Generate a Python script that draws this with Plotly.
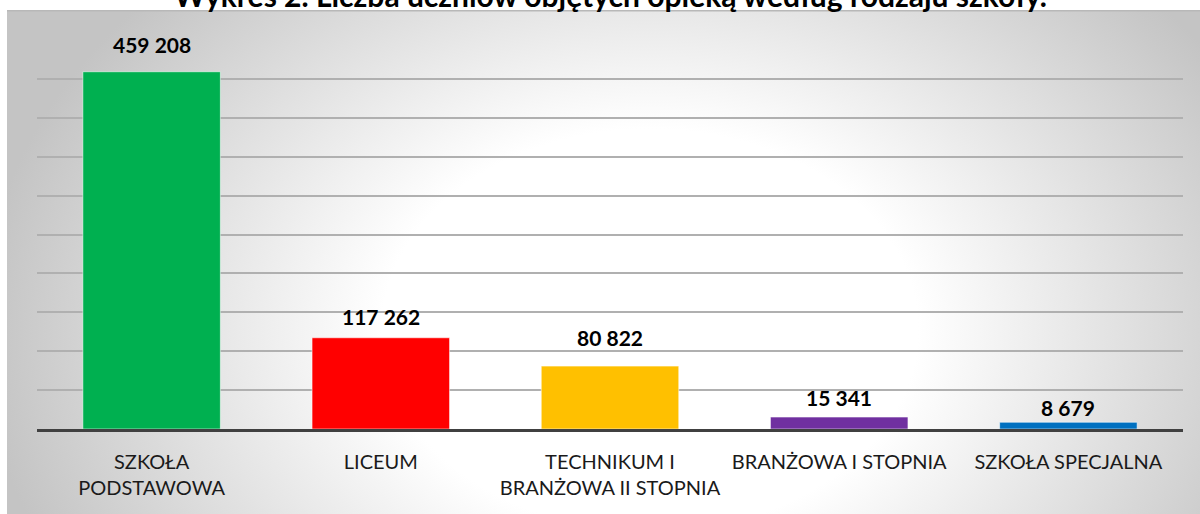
import base64
import plotly.graph_objects as go

# ---- data ----
categories = ["SZKOŁA<br>PODSTAWOWA", "LICEUM", "TECHNIKUM I<br>BRANŻOWA II STOPNIA",
              "BRANŻOWA I STOPNIA", "SZKOŁA SPECJALNA"]
values = [459208, 117262, 80822, 15341, 8679]
value_labels = ["459 208", "117 262", "80 822", "15 341", "8 679"]
bar_colors = ["#00B050", "#FF0000", "#FFC000", "#7030A0", "#0070C0"]
title_text = "Wykres 2. Liczba uczniów objętych opieką według rodzaju szkoły."

# ---- geometry (pixels) ----
W, H = 1200, 514
ML, MR, MT, MB = 37, 17, 40, 85
PW = W - ML - MR
PH = H - MT - MB
label_gaps = [19, 13, 20, 11, 6]  # px between bar top and label baseline

# background panel with radial gradient
pan_l, pan_t = 7, 10
pw, ph = W - pan_l, H - pan_t
cx, cy = 643, 320
svg = f'''<svg xmlns="http://www.w3.org/2000/svg" width="{pw}" height="{ph}" viewBox="0 0 {pw} {ph}" preserveAspectRatio="none">
<defs><radialGradient id="g" gradientUnits="userSpaceOnUse" cx="{cx}" cy="{cy}" r="670"
 gradientTransform="translate({cx} {cy}) scale(1 0.75) translate({-cx} {-cy})">
<stop offset="0" stop-color="#ffffff"/><stop offset="0.4" stop-color="#ffffff"/>
<stop offset="1" stop-color="#c4c4c4"/></radialGradient></defs>
<rect x="0" y="0" width="{pw}" height="{ph}" fill="url(#g)"/>
<rect x="0" y="0" width="{pw}" height="1.5" fill="#b8b8b8"/>
</svg>'''
src = "data:image/svg+xml;base64," + base64.b64encode(svg.encode()).decode()

fig = go.Figure()
fig.add_trace(go.Bar(
    x=categories, y=values,
    marker=dict(color=bar_colors, line=dict(color="rgba(255,255,255,0.55)", width=1)),
    width=0.6, hoverinfo="skip",
))

for cat, v, lab, gap in zip(categories, values, value_labels, label_gaps):
    fig.add_annotation(x=cat, y=v, xref="x", yref="y", text=f"<b>{lab}</b>",
                       showarrow=False, yanchor="bottom", yshift=gap - 6,
                       font=dict(family="Lato", size=21, color="#000000"))

fig.add_annotation(x=0.5, y=1, xref="paper", yref="paper", text=f"<b>{title_text}</b>",
                   showarrow=False, yanchor="middle", yshift=MT + 5,
                   font=dict(family="Lato", size=30, color="#000000"))

fig.add_layout_image(dict(
    source=src, xref="paper", yref="paper",
    x=(pan_l - ML) / PW, y=(H - MB - pan_t) / PH,
    sizex=pw / PW, sizey=ph / PH, sizing="stretch",
    xanchor="left", yanchor="top", layer="below",
))

fig.update_layout(
    width=W, height=H,
    margin=dict(l=ML, r=MR, t=MT, b=MB, pad=0),
    paper_bgcolor="#ffffff", plot_bgcolor="rgba(0,0,0,0)",
    showlegend=False,
    xaxis=dict(showgrid=False, showline=True, linecolor="#404040", linewidth=3,
               ticks="outside", ticklen=13, tickcolor="rgba(0,0,0,0)",
               tickfont=dict(family="Lato", size=20, color="#1a1a1a"),
               fixedrange=True),
    yaxis=dict(range=[0, 500000], dtick=50000, showgrid=True, gridcolor="#b0b0b0",
               gridwidth=1.5, zeroline=False, showticklabels=False, fixedrange=True),
)

fig.write_html("out.html", config={"displayModeBar": False},
               post_script="document.body.style.margin='0';")
